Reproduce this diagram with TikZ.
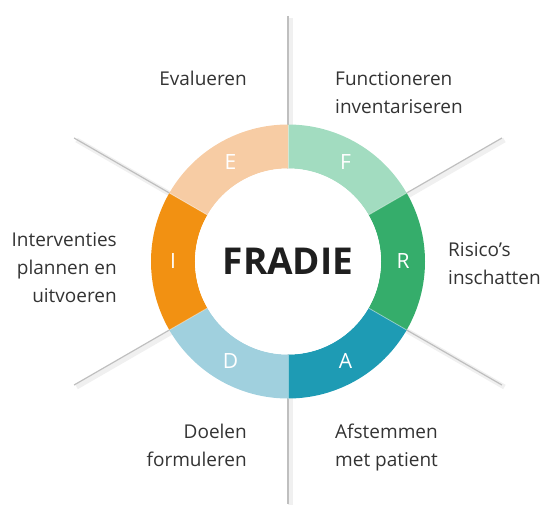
\documentclass[tikz,border=0pt]{standalone}
\usepackage{fontspec}
\setmainfont{Open Sans}
\usetikzlibrary{positioning}

\definecolor{segF}{HTML}{A2DCC0}
\definecolor{segR}{HTML}{35AD6B}
\definecolor{segA}{HTML}{1E9BB4}
\definecolor{segD}{HTML}{A0D0DE}
\definecolor{segI}{HTML}{F29112}
\definecolor{segE}{HTML}{F7CCA4}
\definecolor{labeltext}{HTML}{333333}

\begin{document}
\begin{tikzpicture}[
  x=1pt,y=1pt,
  spoke/.style={draw=black!25,line width=1.2pt},
  spokeshadow/.style={draw=black!6,line width=5pt},
  seam/.style={draw=white,draw opacity=.45,line width=.8pt},
  letter/.style={text=white,font=\fontsize{21}{21}\selectfont},
  hub/.style={circle,fill=white,minimum size=186pt,inner sep=0pt,font=\fontsize{37}{37}\selectfont\bfseries,text=black!88},
  stage/.style={text=labeltext,inner sep=0pt,font=\fontsize{19}{28}\selectfont}
]
  \useasboundingbox (-288,-242.5) rectangle (255,261.5);

  % spokes behind the ring
  \coordinate (c) at (0,0);
  \coordinate (top) at (0,245.5);
  \coordinate (bot) at (0,-242.5);
  \coordinate (ne) at (30:247);
  \coordinate (nw) at (150:247);
  \coordinate (sw) at (210:247);
  \coordinate (se) at (330:247);
  \foreach \a/\b in {top/bot,nw/se,ne/sw}
    \draw[spokeshadow] ([shift={(2.5,-2)}]\a) -- ([shift={(2.5,-2)}]\b);
  \foreach \a/\b in {top/bot,nw/se,ne/sw}
    \draw[spoke] (\a) -- (\b);

  % ring segments F R A D I E
  \foreach \s/\e/\col/\l in {90/30/segF/F,30/-30/segR/R,-30/-90/segA/A,-90/-150/segD/D,-150/-210/segI/I,150/90/segE/E} {
    \fill[\col] (\s:137) arc[start angle=\s,end angle=\e,radius=137]
      -- (\e:93) arc[start angle=\e,end angle=\s,radius=93] -- cycle;
    \draw[seam] (\s:93) -- (\s:137);
    \node[letter] (l\l) at ({(\s+\e)/2}:115) {\l};
  }

  \node[hub] (hub) at (c) {FRADIE};

  % stage labels (base = baseline of the last line)
  \node[stage,anchor=base east,align=right] (evalueren) at (-41,176.5) {Evalueren};
  \node[stage,anchor=base west,align=left] (functioneren) at (47,148.5) {Functioneren\\inventariseren};
  \node[stage,anchor=base west,align=left] (risico) at (160,-23.2) {Risico’s\\inschatten};
  \node[stage,anchor=base west,align=left] (afstemmen) at (47,-204.5) {Afstemmen\\met patient};
  \node[stage,anchor=base east,align=right] (doelen) at (-41,-204.5) {Doelen\\formuleren};
  \node[stage,anchor=base east,align=right] (interventies) at (-171,-41) {Interventies\\plannen en\\uitvoeren};
\end{tikzpicture}
\end{document}
